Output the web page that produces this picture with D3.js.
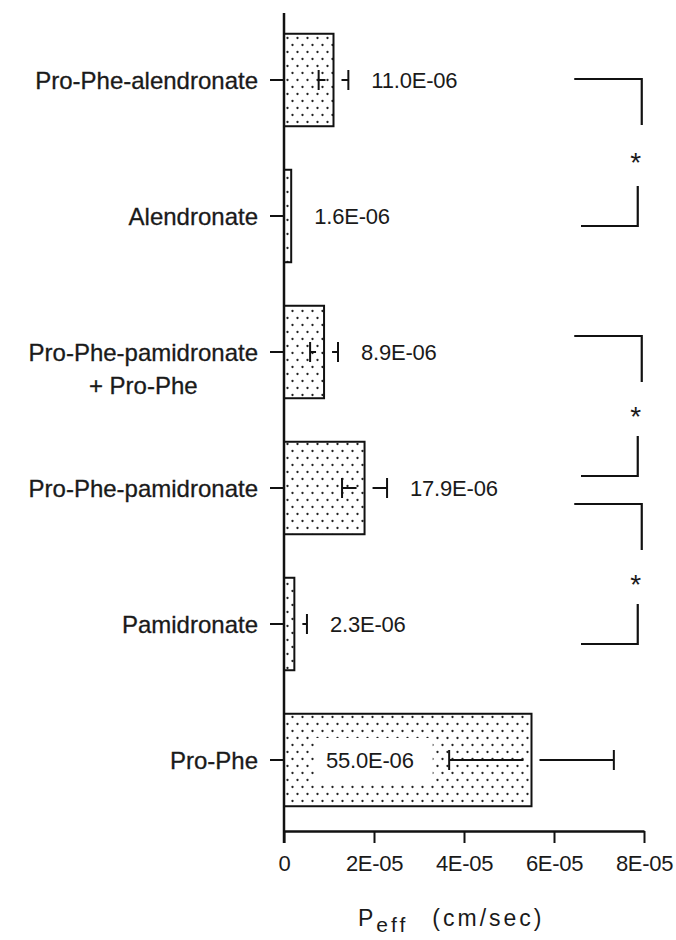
<!DOCTYPE html>
<html>
<head>
<meta charset="utf-8">
<script src="https://cdn.jsdelivr.net/npm/d3@7"></script>
<style>
  body { margin: 0; background: #fff; }
  svg { display: block; }
  text { font-family: "Liberation Sans", Arial, sans-serif; fill: #1a1a1a; }
</style>
</head>
<body>
<div id="chart"></div>
<script>

// ---- data ----
var categories = ["Pro-Phe-alendronate", "Alendronate", "Pro-Phe-pamidronate\n+ Pro-Phe",
                  "Pro-Phe-pamidronate", "Pamidronate", "Pro-Phe"];
var peff  = [11.0e-6, 1.6e-6, 8.9e-6, 17.9e-6, 2.3e-6, 55.0e-6];
var sd    = [3.3e-6, 0, 3.1e-6, 5.0e-6, 2.8e-6, 18.3e-6];
var xTicks = [0, 2e-5, 4e-5, 6e-5, 8e-5];
// significance brackets: pairs of category indexes
var sigPairs = [[0, 1], [2, 3], [3, 4]];
var sigLabel = ["*", "*", "*"];

// ---- layout ----
var W = 676, H = 940;
var x0 = 284, x1 = 644;
var plotTop = 12, plotBottom = 828, axisY = 831;
var gap = 8;          // white gap of error bar around the bar end
var capH = 20;
// hand-drawn bracket ends sit a bit off the bar centres
var bracketNudge = [[-1, 10], [-16, -12], [16, 20]];

var svg = d3.select("#chart").append("svg")
    .attr("width", W).attr("height", H);

var defs = svg.append("defs");
var pat = defs.append("pattern")
    .attr("id", "dots")
    .attr("patternUnits", "userSpaceOnUse")
    .attr("width", 10).attr("height", 14);
pat.append("rect").attr("width", 10).attr("height", 14).attr("fill", "#fff");
pat.append("circle").attr("cx", 2.5).attr("cy", 3).attr("r", 1.15).attr("fill", "#222");
pat.append("circle").attr("cx", 7.5).attr("cy", 10).attr("r", 1.15).attr("fill", "#222");

var x = d3.scaleLinear().domain([0, 8e-5]).range([x0, x1]);
var y = d3.scaleBand().domain(d3.range(categories.length))
    .range([plotTop, plotBottom]).paddingInner(0.32).paddingOuter(0.16);
var cy = i => y(i) + y.bandwidth() / 2;

var fmtTick = d => d === 0 ? "0" : (d / Math.pow(10, Math.floor(Math.log10(d)))).toFixed(0) + "E-0" + (-Math.floor(Math.log10(d)));
var fmtVal = d => (d * 1e6).toFixed(1) + "E-06";

// ---- bars ----
var bars = svg.append("g");
bars.selectAll("rect").data(peff).enter().append("rect")
    .attr("x", x(0))
    .attr("y", (d, i) => y(i))
    .attr("width", d => x(d) - x(0))
    .attr("height", y.bandwidth())
    .attr("fill", "url(#dots)")
    .attr("stroke", "#111")
    .attr("stroke-width", 2);

// ---- value labels ----
var labels = svg.append("g");
peff.forEach(function(v, i) {
    var inside = x(v) - x(0) > 150;
    var tx = inside ? x(0) + 42 : Math.max(x(v), x(v + sd[i])) + 23;
    var t = labels.append("text")
        .attr("x", tx).attr("y", cy(i))
        .attr("dy", "0.36em")
        .attr("font-size", 22)
        .attr("letter-spacing", -0.2)
        .text(fmtVal(v));
    if (inside) {
        var bb = t.node().getBBox();
        labels.insert("rect", "text")
            .attr("x", bb.x - 11).attr("y", cy(i) - 22)
            .attr("width", bb.width + 30).attr("height", 44)
            .attr("fill", "#fff");
    }
});

// ---- error bars (drawn with a white gap around the bar end) ----
var err = svg.append("g").attr("stroke", "#111").attr("stroke-width", 2).attr("fill", "none");
peff.forEach(function(v, i) {
    if (!sd[i]) return;
    var xe = x(v), lo = x(v - sd[i]), hi = x(v + sd[i]), c = cy(i);
    if (v - sd[i] > 0) {
        err.append("line").attr("x1", lo).attr("x2", xe - gap).attr("y1", c).attr("y2", c);
        err.append("line").attr("x1", lo).attr("x2", lo).attr("y1", c - capH / 2).attr("y2", c + capH / 2);
    }
    err.append("line").attr("x1", xe + gap).attr("x2", hi).attr("y1", c).attr("y2", c);
    err.append("line").attr("x1", hi).attr("x2", hi).attr("y1", c - capH / 2).attr("y2", c + capH / 2);
});

// ---- axes ----
var xAxis = svg.append("g")
    .attr("transform", "translate(0," + axisY + ")")
    .call(d3.axisBottom(x).tickValues(xTicks).tickFormat(fmtTick).tickSize(12).tickSizeOuter(0).tickPadding(12));
xAxis.select(".domain").attr("stroke", "#111").attr("stroke-width", 2.5);
xAxis.selectAll(".tick line").attr("stroke", "#111").attr("stroke-width", 2);
xAxis.selectAll(".tick text")
    .attr("font-family", "Liberation Sans, Arial, sans-serif")
    .attr("font-size", 22).attr("letter-spacing", -0.3).attr("fill", "#1a1a1a");

svg.append("line")
    .attr("x1", x0).attr("x2", x0).attr("y1", 13).attr("y2", axisY + 12)
    .attr("stroke", "#111").attr("stroke-width", 2.5);

var yAxis = svg.append("g");
categories.forEach(function(name, i) {
    var c = cy(i);
    yAxis.append("line").attr("x1", x0 - 14).attr("x2", x0).attr("y1", c).attr("y2", c)
        .attr("stroke", "#111").attr("stroke-width", 2);
    var lines = name.split("\n");
    var t = yAxis.append("text")
        .attr("x", x0 - 26).attr("y", c).attr("dy", "0.36em")
        .attr("text-anchor", "end")
        .attr("font-size", 24)
        .attr("stroke", "#1a1a1a").attr("stroke-width", 0.3)
        .text(lines[0]);
    if (lines.length > 1) {
        var w = t.node().getComputedTextLength();
        yAxis.append("text")
            .attr("x", x0 - 26 - w / 2).attr("y", c + 33).attr("dy", "0.36em")
            .attr("text-anchor", "middle")
            .attr("font-size", 24)
            .attr("stroke", "#1a1a1a").attr("stroke-width", 0.3)
            .text(lines[1]);
    }
});

// axis title
var title = svg.append("text")
    .attr("x", 358).attr("y", 926)
    .attr("font-size", 23).attr("letter-spacing", 3);
title.append("tspan").text("P");
title.append("tspan").attr("dy", 6).attr("font-size", 21).text("eff");
title.append("tspan").attr("dy", -6).attr("dx", 24).text("(cm/sec)");

// ---- significance brackets ----
var br = svg.append("g").attr("stroke", "#111").attr("stroke-width", 2.2).attr("fill", "none");
sigPairs.forEach(function(p, k) {
    var yt = cy(p[0]) + bracketNudge[k][0];
    var yb = cy(p[1]) + bracketNudge[k][1];
    var xr = x(7.95e-5);
    br.append("path").attr("d", "M" + x(6.45e-5) + "," + yt + "H" + xr + "V" + (yt + 46));
    br.append("path").attr("d", "M" + x(6.6e-5) + "," + yb + "H" + (xr - 4) + "V" + (yb - 40));
    svg.append("text")
        .attr("x", xr - 6).attr("y", ((yt + 46) + (yb - 40)) / 2)
        .attr("dy", "0.6em").attr("text-anchor", "middle")
        .attr("font-size", 28).attr("fill", "#333")
        .text(sigLabel[k]);
});

</script>
</body>
</html>
